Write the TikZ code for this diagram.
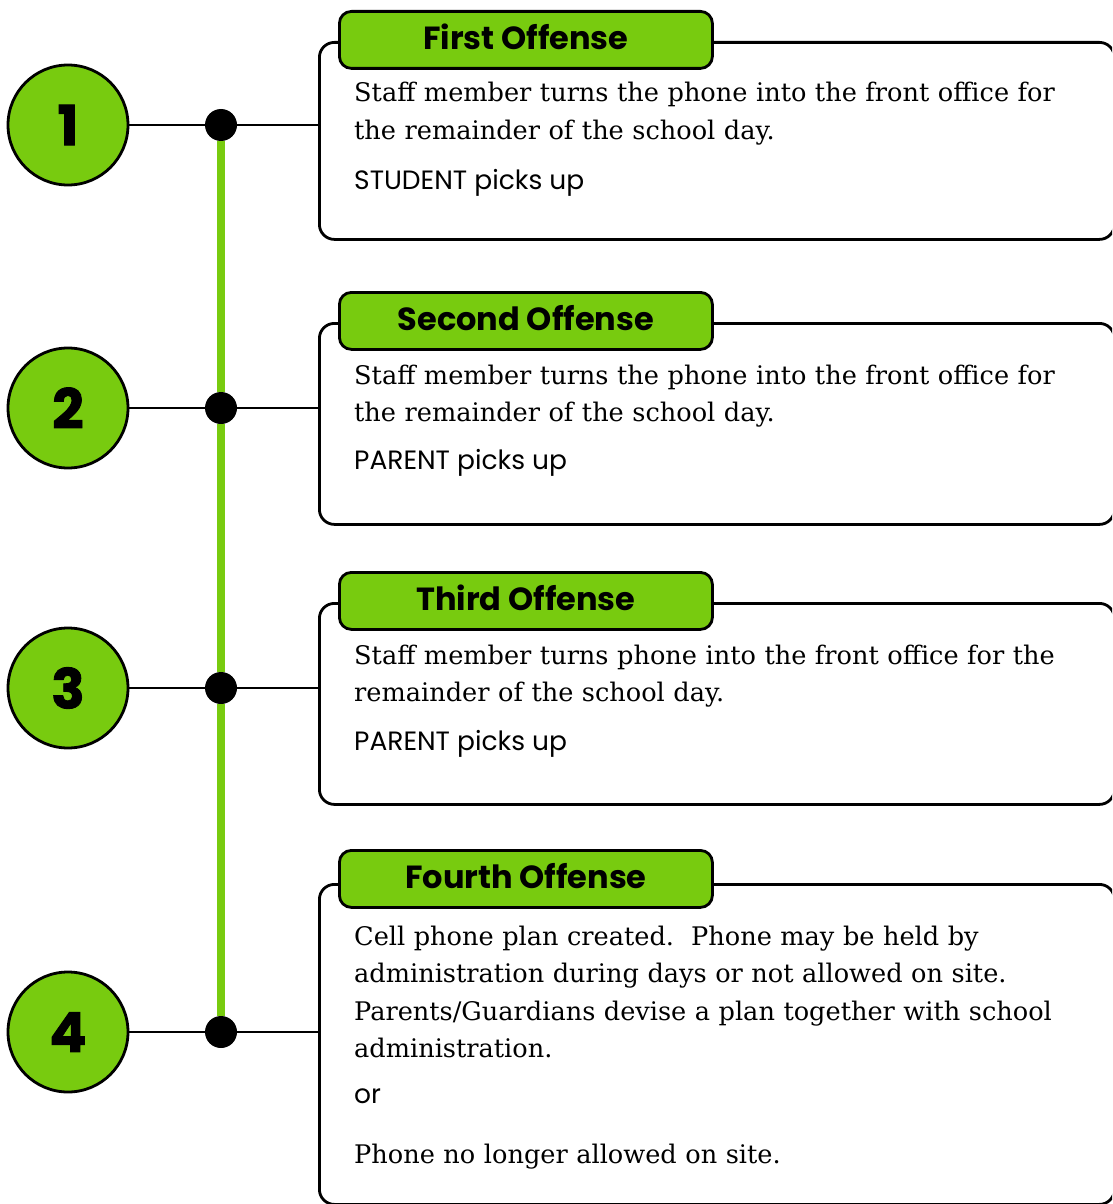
\documentclass[tikz,border=0pt]{standalone}
\usepackage{fontspec}
\setmainfont{DejaVu Serif}
\newfontfamily\popfont{Poppins}
\newfontfamily\numfont{Poppins}[BoldFeatures={FakeBold=1.6}]
\definecolor{offgreen}{HTML}{78CB0F}
\frenchspacing

\begin{document}
\begin{tikzpicture}[x=1pt,y=-1pt,
  num/.style={circle,draw,line width=2.8pt,fill=offgreen,minimum size=120pt,inner sep=0pt,
    font=\numfont\bfseries\fontsize{55}{55}\selectfont},
  dot/.style={circle,fill=black,minimum size=32pt,inner sep=0pt},
  box/.style={draw,line width=2.8pt,rounded corners=15pt,minimum width=795pt,anchor=north west,inner sep=0pt},
  tab/.style={draw,line width=2.8pt,rounded corners=12pt,fill=offgreen,minimum width=373pt,minimum height=57pt,
    anchor=north west,inner sep=0pt,text depth=6pt,font=\popfont\bfseries\fontsize{32}{32}\selectfont},
  body/.style={anchor=base west,inner sep=0pt,text width=760pt,align=left,font=\fontsize{25.6}{37.5}\selectfont},
  note/.style={anchor=base west,inner sep=0pt,font=\popfont\fontsize{26.5}{26.5}\selectfont},
  link/.style={line width=2.8pt},
  spine/.style={line width=7.5pt,offgreen}]
 \useasboundingbox (0,0) rectangle (1112,1204);
 \clip (0,0) rectangle (1112,1204);

 \node[num] (c1) at (68,125) {1};
 \node[num] (c2) at (68,408) {2};
 \node[num] (c3) at (68,688) {3};
 \node[num] (c4) at (68,1032) {4};

 \node[dot] (d1) at (221,125) {};
 \node[dot] (d2) at (221,408) {};
 \node[dot] (d3) at (221,688) {};
 \node[dot] (d4) at (221,1032) {};

 \node[box,minimum height=197pt] (b1) at (318,41) {};
 \node[box,minimum height=201pt] (b2) at (318,322) {};
 \node[box,minimum height=201pt] (b3) at (318,602) {};
 \node[box,minimum height=320pt] (b4) at (318,883) {};

 \node[tab] (t1) at (338,10) {First Offense};
 \node[tab] (t2) at (338,291) {Second Offense};
 \node[tab] (t3) at (338,571) {Third Offense};
 \node[tab] (t4) at (338,849) {Fourth Offense};

 \node[body] (p1) at (354,102) {Staff member turns the phone into the front office for\\ the remainder of the school day.};
 \node[note] (n1) at (354,189) {STUDENT picks up};
 \node[body] (p2) at (354,384) {Staff member turns the phone into the front office for\\ the remainder of the school day.};
 \node[note] (n2) at (354,469) {PARENT picks up};
 \node[body] (p3) at (354,664) {Staff member turns phone into the front office for the\\ remainder of the school day.};
 \node[note] (n3) at (354,750) {PARENT picks up};
 \node[body] (p4) at (354,945) {Cell phone plan created.\ \ Phone may be held by\\ administration during days or not allowed on site.\\ Parents/Guardians devise a plan together with school\\ administration.};
 \node[note] (n4) at (354,1103) {or};
 \node[body] (p5) at (354,1163) {Phone no longer allowed on site.};

 \draw[spine] (d1) -- (d2) -- (d3) -- (d4);
 \draw[link] (c1) -- (d1);
 \draw[link] (d1) -- (d1 -| b1.west);
 \draw[link] (c2) -- (d2);
 \draw[link] (d2) -- (d2 -| b2.west);
 \draw[link] (c3) -- (d3);
 \draw[link] (d3) -- (d3 -| b3.west);
 \draw[link] (c4) -- (d4);
 \draw[link] (d4) -- (d4 -| b4.west);
\end{tikzpicture}
\end{document}
